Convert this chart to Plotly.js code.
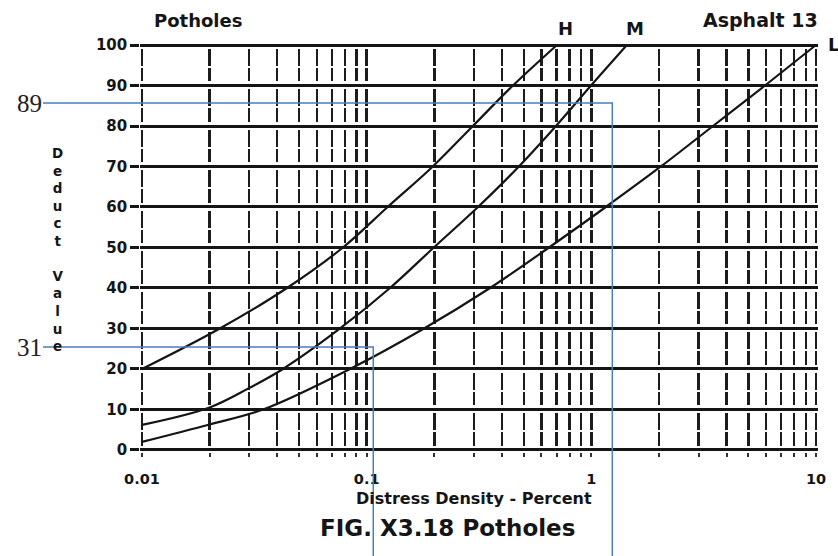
<!DOCTYPE html>
<html>
<head>
<meta charset="utf-8">
<script src="https://cdn.plot.ly/plotly-3.0.1.min.js"></script>
<style>
  html, body { margin: 0; padding: 0; background: #fff; }
  #chart { width: 838px; height: 556px; }
</style>
</head>
<body>
<div id="chart"></div>
<script>
// Deduct value curves for potholes in asphalt pavement, one per severity level.
const densityH = [0.01, 0.0222, 0.0442, 0.0784, 0.124, 0.197, 0.297, 0.448, 0.703];
const deductH  = [20, 30, 40, 50, 60, 70, 80, 90, 100];

const densityM = [0.01, 0.02, 0.03, 0.0424, 0.0761, 0.127, 0.199, 0.313, 0.476, 0.696, 0.997, 1.44];
const deductM  = [6.2, 10.5, 15.3, 20, 30, 40, 50, 60, 70, 80, 90, 100];

const densityL = [0.01, 0.02, 0.0346, 0.0843, 0.18, 0.354, 0.648, 1.16, 2.04, 3.48, 5.93, 10];
const deductL  = [2, 6.3, 10, 20, 30, 40, 50, 60, 70, 80, 90, 100];

const severityNames = ['H', 'M', 'L'];

// Axis ticks
const deductTicks = [0, 10, 20, 30, 40, 50, 60, 70, 80, 90, 100];
const densityGrid = [0.01, 0.02, 0.03, 0.04, 0.05, 0.06, 0.07, 0.08, 0.09,
                     0.1, 0.2, 0.3, 0.4, 0.5, 0.6, 0.7, 0.8, 0.9,
                     1, 2, 3, 4, 5, 6, 7, 8, 9, 10];
const densityTickLabels = ['0.01', '0.1', '1', '10'];
const densityLabelled = [0.01, 0.1, 1, 10];

// Reading guides drawn over the chart: deduct value read and density where it meets the curve
const guideDeduct  = [89, 31];
const guideDensity = [1.24, 0.107];

// ---- page geometry (pixels) ----
const W = 838, H = 556;
const plotLeft = 142, plotRight = 816, plotTop = 45, plotBottom = 450;
const decadePx = (plotRight - plotLeft) / 3;
const unitPx = (plotBottom - plotTop) / 100;
const xPad = 0.008, yPad = 0.5;

const xDomain = [(plotLeft - xPad * decadePx) / W, (plotRight + xPad * decadePx) / W];
const yDomain = [(H - (plotBottom + yPad * unitPx)) / H, (H - (plotTop - yPad * unitPx)) / H];

// Overlay scale of the guide layer (spans the whole page)
const guideRowA = 103, guideRowB = 347;      // pixel rows of the two guide readings
const gB = (guideRowB - guideRowA) / (guideDeduct[0] - guideDeduct[1]);
const gA = guideRowA + guideDeduct[0] * gB;
const y2Range = [(gA - H) / gB, gA / gB];
const x2Range = [-2 - plotLeft / decadePx, -2 + (W - plotLeft) / decadePx];
const guideStartLog = -2 + (43 - plotLeft) / decadePx;

const ink = '#151515';
const curveStyle = { color: ink, width: 2.2, shape: 'spline', smoothing: 1 };

const traces = [
  { x: densityH, y: deductH, mode: 'lines', line: curveStyle, hoverinfo: 'skip', xaxis: 'x', yaxis: 'y' },
  { x: densityM, y: deductM, mode: 'lines', line: curveStyle, hoverinfo: 'skip', xaxis: 'x', yaxis: 'y' },
  { x: densityL, y: deductL, mode: 'lines', line: curveStyle, hoverinfo: 'skip', xaxis: 'x', yaxis: 'y' }
];

guideDeduct.forEach(function (v, i) {
  traces.push({
    x: [Math.pow(10, guideStartLog), guideDensity[i], guideDensity[i]],
    y: [v, v, y2Range[0]],
    mode: 'lines',
    line: { color: '#4a7ebb', width: 1.5 },
    hoverinfo: 'skip',
    xaxis: 'x2', yaxis: 'y2'
  });
});

const boldFont = (size) => ({ family: 'DejaVu Sans', size: size, color: ink, weight: 'bold' });

const annotations = [];

// stacked vertical axis title
annotations.push({
  xref: 'paper', yref: 'paper', x: 58 / W, y: 1 - 143 / H,
  xanchor: 'center', yanchor: 'top', showarrow: false, align: 'center',
  text: 'Deduct Value'.split('').map(c => c === ' ' ? '' : c).join('<br>'),
  font: boldFont(13.5)
});

// headings
annotations.push({ xref: 'paper', yref: 'paper', x: 152 / W, y: 1 - 21 / H, xanchor: 'left', yanchor: 'middle',
  showarrow: false, text: 'Potholes', font: boldFont(18) });
annotations.push({ xref: 'paper', yref: 'paper', x: 820 / W, y: 1 - 20 / H, xanchor: 'right', yanchor: 'middle',
  showarrow: false, text: 'Asphalt 13', font: boldFont(19) });
annotations.push({ xref: 'paper', yref: 'paper', x: 474 / W, y: 1 - 498 / H, xanchor: 'center', yanchor: 'middle',
  showarrow: false, text: 'Distress Density - Percent', font: boldFont(16) });
annotations.push({ xref: 'paper', yref: 'paper', x: 447 / W, y: 1 - 528 / H, xanchor: 'center', yanchor: 'middle',
  showarrow: false, text: 'FIG. X3.18 Potholes', font: boldFont(23) });

// severity labels at the top end of each curve
const curveEnds = [
  [densityH[densityH.length - 1], deductH[deductH.length - 1], 9, 17],
  [densityM[densityM.length - 1], deductM[deductM.length - 1], 8, 17],
  [densityL[densityL.length - 1], deductL[deductL.length - 1], 17, 1]
];
curveEnds.forEach(function (e, i) {
  annotations.push({
    xref: 'x', yref: 'y', x: Math.log10(e[0]), y: e[1], xshift: e[2], yshift: e[3],
    xanchor: 'center', yanchor: 'middle', showarrow: false,
    text: severityNames[i], font: boldFont(18)
  });
});

// guide reading labels
guideDeduct.forEach(function (v) {
  annotations.push({
    xref: 'x2', yref: 'y2', x: guideStartLog, y: v, xanchor: 'right', yanchor: 'middle',
    xshift: 1, showarrow: false, text: String(v),
    font: { family: 'Liberation Serif', size: 25, color: '#222222' }
  });
});

const layout = {
  width: W, height: H,
  margin: { l: 0, r: 0, t: 0, b: 0, pad: 0 },
  paper_bgcolor: '#ffffff',
  plot_bgcolor: 'rgba(0,0,0,0)',
  showlegend: false,
  xaxis: {
    type: 'log', domain: xDomain, anchor: 'y',
    range: [-2 - xPad, 1 + xPad],
    tickmode: 'array', tickvals: densityGrid,
    ticktext: densityGrid.map(d => {
      const k = densityLabelled.indexOf(d);
      return k >= 0 ? densityTickLabels[k] : '';
    }),
    showgrid: true, gridcolor: '#1c1c1c', gridwidth: 2.4,
    griddash: '0px,6px,17px,2px,13.5px,2px',
    ticks: 'outside', ticklen: 4, tickwidth: 2, tickcolor: '#333',
    ticklabelstandoff: 10,
    tickfont: boldFont(14.5),
    zeroline: false, showline: false, fixedrange: true
  },
  yaxis: {
    domain: yDomain, anchor: 'x',
    range: [-yPad, 100 + yPad],
    tickmode: 'array', tickvals: deductTicks,
    showgrid: true, gridcolor: ink, gridwidth: 3,
    ticks: 'outside', ticklen: 9, tickwidth: 3, tickcolor: ink,
    tickfont: boldFont(15),
    zeroline: false, showline: false, fixedrange: true
  },
  xaxis2: {
    type: 'log', domain: [0, 1], anchor: 'y2', range: x2Range,
    visible: false, showgrid: false, zeroline: false, fixedrange: true
  },
  yaxis2: {
    domain: [0, 1], anchor: 'x2', range: y2Range,
    visible: false, showgrid: false, zeroline: false, fixedrange: true
  },
  annotations: annotations
};

Plotly.newPlot('chart', traces, layout, { staticPlot: true, displayModeBar: false });
</script>
</body>
</html>
